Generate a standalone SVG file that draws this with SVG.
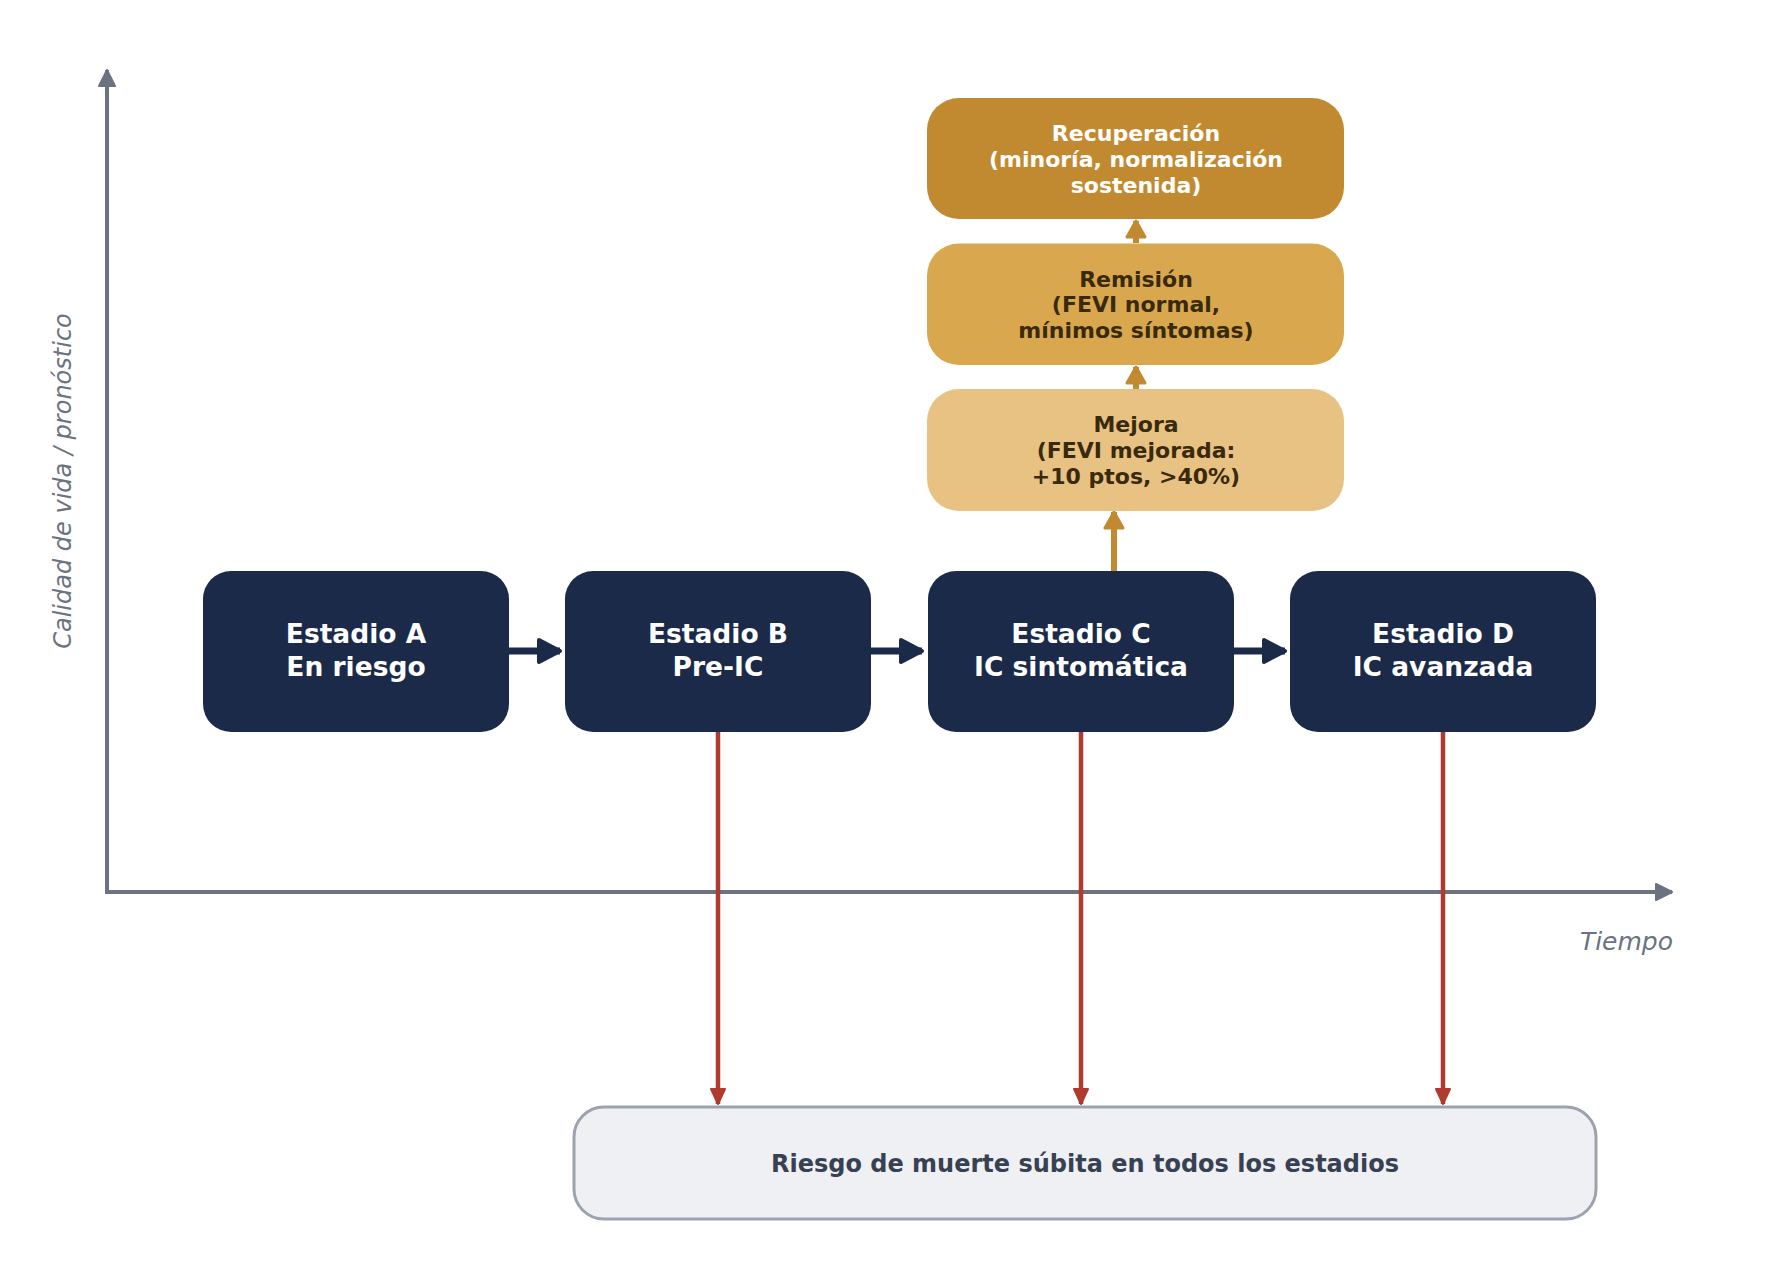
<svg xmlns="http://www.w3.org/2000/svg" width="1765" height="1275" viewBox="0 0 1765 1275">
<style>
.stage rect{fill:#1C2A4A}
.stage text{fill:#ffffff;font-family:"DejaVu Sans",sans-serif;font-weight:bold;font-size:26.5px;text-anchor:middle}
.gold text{font-family:"DejaVu Sans",sans-serif;font-weight:bold;font-size:22px;text-anchor:middle}
.dark{fill:#3A2A0C}
.axis{stroke:#6B7280;stroke-width:4;fill:none}
.axlabel{fill:#6B7280;font-family:"DejaVu Sans",sans-serif;font-style:italic}
</style>
<defs>
<marker id="mAxis" markerUnits="userSpaceOnUse" markerWidth="24" markerHeight="24" refX="18" refY="10" orient="auto">
<path d="M2,2 L18,10 L2,18 z" fill="#6B7280" stroke="#6B7280" stroke-width="2" stroke-linejoin="round"/>
</marker>
<marker id="mNavy" markerUnits="userSpaceOnUse" markerWidth="30" markerHeight="30" refX="25" refY="15" orient="auto">
<path d="M4,4 L25,15 L4,26 z" fill="#1C2A4A" stroke="#1C2A4A" stroke-width="4" stroke-linejoin="round"/>
</marker>
<marker id="mGold" markerUnits="userSpaceOnUse" markerWidth="26" markerHeight="26" refX="19" refY="12" orient="auto">
<path d="M3,3 L19,12 L3,21 z" fill="#C28A30" stroke="#C28A30" stroke-width="3" stroke-linejoin="round"/>
</marker>
<marker id="mRed" markerUnits="userSpaceOnUse" markerWidth="22" markerHeight="22" refX="17" refY="10" orient="auto">
<path d="M2,3 L17,10 L2,17 z" fill="#B03A2E" stroke="#B03A2E" stroke-width="2" stroke-linejoin="round"/>
</marker>
</defs>
<rect width="1765" height="1275" fill="#ffffff"/>

<g id="axes">
<line class="axis" x1="107" y1="892" x2="107" y2="70" marker-end="url(#mAxis)"/>
<line class="axis" x1="105" y1="892" x2="1672" y2="892" marker-end="url(#mAxis)"/>
<text class="axlabel" transform="translate(71,481) rotate(-90)" text-anchor="middle" font-size="24">Calidad de vida / pronóstico</text>
<text class="axlabel" x="1673" y="950" text-anchor="end" font-size="25">Tiempo</text>
</g>

<g id="connectors">
<line x1="509" y1="651" x2="560" y2="651" stroke="#1C2A4A" stroke-width="7" marker-end="url(#mNavy)"/>
<line x1="871" y1="651" x2="922" y2="651" stroke="#1C2A4A" stroke-width="7" marker-end="url(#mNavy)"/>
<line x1="1234" y1="651" x2="1285" y2="651" stroke="#1C2A4A" stroke-width="7" marker-end="url(#mNavy)"/>
<line x1="1114" y1="571" x2="1114" y2="512" stroke="#C28A30" stroke-width="6" marker-end="url(#mGold)"/>
<line x1="1136" y1="389" x2="1136" y2="367" stroke="#C28A30" stroke-width="6" marker-end="url(#mGold)"/>
<line x1="1136" y1="243" x2="1136" y2="221" stroke="#C28A30" stroke-width="6" marker-end="url(#mGold)"/>
<line x1="718" y1="731" x2="718" y2="1104" stroke="#B03A2E" stroke-width="4.5" marker-end="url(#mRed)"/>
<line x1="1081" y1="731" x2="1081" y2="1104" stroke="#B03A2E" stroke-width="4.5" marker-end="url(#mRed)"/>
<line x1="1443" y1="731" x2="1443" y2="1104" stroke="#B03A2E" stroke-width="4.5" marker-end="url(#mRed)"/>
</g>

<g id="stageA" class="stage">
<rect x="203" y="571" width="306" height="161" rx="28"/>
<text x="356" y="643">Estadio A</text>
<text x="356" y="676">En riesgo</text>
</g>
<g id="stageB" class="stage">
<rect x="565" y="571" width="306" height="161" rx="28"/>
<text x="718" y="643">Estadio B</text>
<text x="718" y="676">Pre-IC</text>
</g>
<g id="stageC" class="stage">
<rect x="928" y="571" width="306" height="161" rx="28"/>
<text x="1081" y="643">Estadio C</text>
<text x="1081" y="676">IC sintomática</text>
</g>
<g id="stageD" class="stage">
<rect x="1290" y="571" width="306" height="161" rx="28"/>
<text x="1443" y="643">Estadio D</text>
<text x="1443" y="676">IC avanzada</text>
</g>

<g id="recuperacion" class="gold">
<rect x="927" y="98" width="417" height="121" rx="32" fill="#C28A30"/>
<text x="1136" y="140.5" fill="#ffffff">Recuperación</text>
<text x="1136" y="167" fill="#ffffff">(minoría, normalización</text>
<text x="1136" y="192.5" fill="#ffffff">sostenida)</text>
</g>
<g id="remision" class="gold">
<rect x="927" y="243.5" width="417" height="121.5" rx="32" fill="#D9A84E"/>
<text class="dark" x="1136" y="286.5">Remisión</text>
<text class="dark" x="1136" y="312">(FEVI normal,</text>
<text class="dark" x="1136" y="337.5">mínimos síntomas)</text>
</g>
<g id="mejora" class="gold">
<rect x="927" y="389" width="417" height="122" rx="32" fill="#E8C283"/>
<text class="dark" x="1136" y="431.5">Mejora</text>
<text class="dark" x="1136" y="457.5">(FEVI mejorada:</text>
<text class="dark" x="1136" y="483.5">+10 ptos, &gt;40%)</text>
</g>

<g id="riesgo">
<rect x="574" y="1107" width="1022" height="112" rx="30" fill="#EEF0F4" stroke="#9CA3AF" stroke-width="3"/>
<text x="1085" y="1172" fill="#374151" font-family="'DejaVu Sans',sans-serif" font-weight="bold" font-size="24" text-anchor="middle">Riesgo de muerte súbita en todos los estadios</text>
</g>
</svg>
